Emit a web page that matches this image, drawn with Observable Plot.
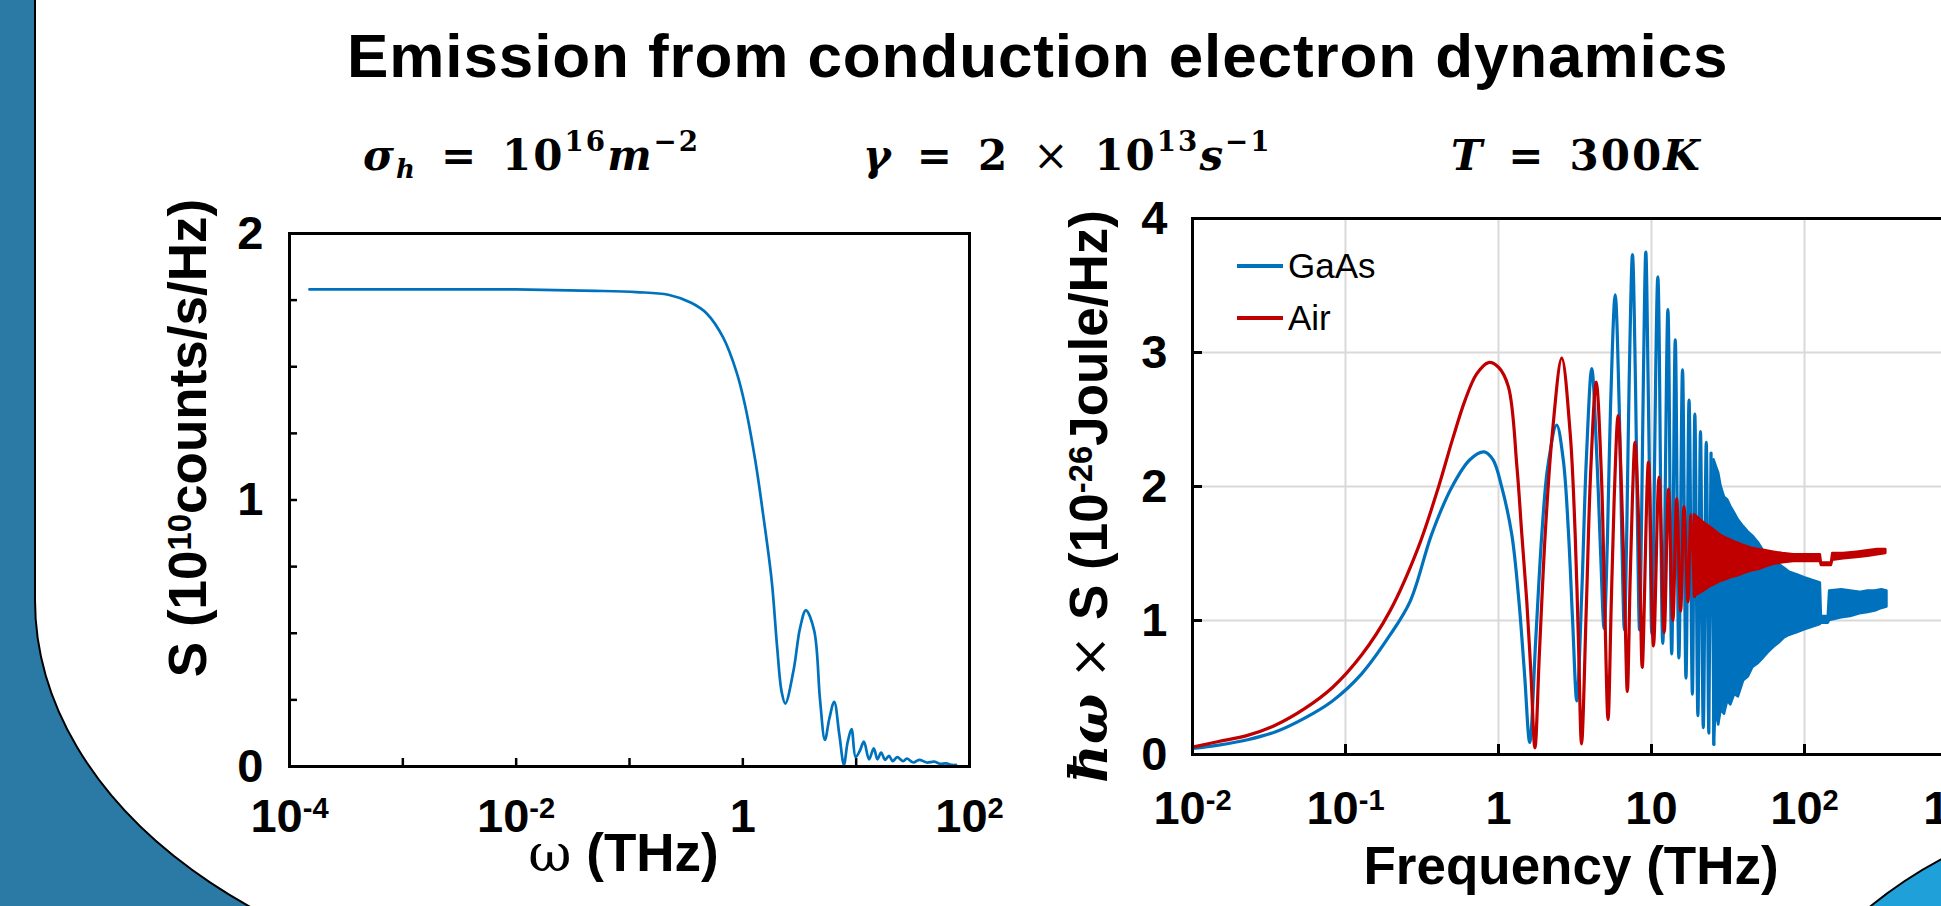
<!DOCTYPE html>
<html>
<head>
<meta charset="utf-8">
<script src="https://cdn.jsdelivr.net/npm/d3@7"></script>
<script src="https://cdn.jsdelivr.net/npm/@observablehq/plot@0.6"></script>
<style>
  html, body { margin: 0; padding: 0; }
  body { width: 1941px; height: 906px; overflow: hidden; position: relative; background: #2a7aa5; font-family: "Liberation Sans", Arial, sans-serif; }
  .abs { position: absolute; white-space: nowrap; line-height: 1; }
  #title { left: 347px; top: 25px; font-size: 62px; font-weight: bold; letter-spacing: 0.9px; color: #000; }
  .math { font-family: "DejaVu Serif", serif; font-weight: bold; font-size: 42px; letter-spacing: 2px; color: #000; top: 135px; }
  .math i { font-style: italic; }
  .math sup { font-size: 0.66em; vertical-align: 0.7em; line-height: 0; }
  .math sub { font-size: 0.62em; vertical-align: -0.3em; line-height: 0; }
  .math .op { margin: 0 24px; }
  .math .x { font-weight: normal; }
  .chart { position: absolute; top: 0; }
  .legend-row { position: absolute; display: flex; align-items: center; font-size: 35px; height: 34px; line-height: 34px; color: #000; }
  .swatch { width: 46px; height: 4px; margin-right: 5px; }
</style>
</head>
<body>
<svg class="abs" style="left:0;top:0" width="1941" height="906">
  <path d="M35,-10 L35,600 A600,400 0 0 0 635,1000 L1990,1000 L1990,-10 Z" fill="#ffffff" stroke="#000" stroke-width="2"/>
  <circle cx="2150" cy="1250" r="443" fill="#1fa0d8" stroke="#000" stroke-width="2"/>
</svg>
<div id="title" class="abs">Emission from conduction electron dynamics</div>
<div class="abs math" style="left:363px"><i>σ</i><sub><i>h</i></sub><span class="op">=</span>10<sup>16</sup><i>m</i><sup>−2</sup></div>
<div class="abs math" style="left:863px"><i>γ</i><span class="op">=</span>2<span class="op x">×</span>10<sup>13</sup><i>s</i><sup>−1</sup></div>
<div class="abs math" style="left:1451px"><i>T</i><span class="op">=</span>300<i>K</i></div>
<div id="left" class="chart" style="left:0px"></div>
<div id="right" class="chart" style="left:1050px"></div>
<div id="legend"></div>
<script>
// ---------- data ----------
const leftFreq = [1.5e-4, 1e-3, 1e-2, 0.05, 0.115, 0.22, 0.35, 0.48, 0.67, 0.88, 1.04, 1.29, 1.51, 1.8, 2.01, 2.2, 2.37, 2.8, 3.2, 3.6, 4.26, 4.8, 5.3, 5.8, 6.4, 7.1, 7.8, 8.4, 9.1, 9.9, 10.8, 11.7, 13, 14.3, 15.4, 16.6, 18, 19.5, 21, 23, 26, 28, 32, 36, 42, 49, 55, 62, 70, 76];
const leftS = [1.79, 1.79, 1.79, 1.785, 1.78, 1.77, 1.74, 1.70, 1.61, 1.48, 1.36, 1.146, 0.946, 0.695, 0.445, 0.28, 0.236, 0.36, 0.52, 0.586, 0.51, 0.25, 0.10, 0.18, 0.243, 0.12, 0.007, 0.09, 0.14, 0.035, 0.06, 0.093, 0.027, 0.068, 0.027, 0.052, 0.025, 0.04, 0.02, 0.035, 0.02, 0.03, 0.015, 0.025, 0.015, 0.018, 0.01, 0.012, 0.006, 0.006];

const gaasFreq = [0.01, 0.0148, 0.0229, 0.035, 0.0537, 0.0822, 0.127, 0.195, 0.265, 0.366, 0.495, 0.65, 0.806, 0.92, 1.05, 1.22, 1.36, 1.48, 1.6, 1.75, 1.92, 2.1, 2.4, 2.65, 2.87, 3.05, 3.25, 3.5, 3.75, 4.07, 4.4, 4.65, 4.9, 5.15, 5.4, 5.79, 6.15, 6.4, 6.65, 6.9, 7.15, 7.51, 7.85, 8.1, 8.35, 8.6, 8.85, 9.18, 9.5, 9.8, 10.05, 11.0, 11.85, 12.8, 13.55, 14.3, 15.1, 15.95, 16.8, 17.6, 18.5, 19.2, 20.1, 20.9, 21.8, 22.8, 23.7, 24.5, 25.6];
const gaasS = [0.045, 0.07, 0.11, 0.17, 0.27, 0.40, 0.60, 0.89, 1.145, 1.645, 1.995, 2.2, 2.258, 2.2, 1.995, 1.645, 1.145, 0.6, 0.09, 0.85, 1.645, 2.15, 2.458, 2.2, 1.645, 1.0, 0.40, 1.2, 2.2, 2.88, 2.2, 1.5, 0.94, 1.6, 2.6, 3.43, 2.6, 1.6, 0.93, 1.7, 2.8, 3.73, 2.8, 1.7, 0.93, 1.7, 2.8, 3.75, 2.8, 1.7, 0.90, 3.565, 0.83, 3.32, 0.75, 3.095, 0.72, 2.87, 0.57, 2.645, 0.45, 2.54, 0.29, 2.41, 0.2, 2.33, 0.16, 2.25, 0.075];
const gaasBandFreq = [25.6, 26.5, 27.5, 28.5, 30, 31.5, 33, 35, 37, 40, 43, 46, 50, 54, 58, 63, 68, 74, 80, 90, 100, 112, 127, 129, 143, 146, 175, 200, 230, 260, 290, 320, 346];
const gaasBandLow = [0.075, 0.33, 0.22, 0.33, 0.30, 0.40, 0.37, 0.45, 0.43, 0.55, 0.58, 0.65, 0.68, 0.72, 0.76, 0.80, 0.83, 0.87, 0.89, 0.91, 0.93, 0.95, 0.97, 0.98, 0.98, 1.0, 1.02, 1.03, 1.05, 1.06, 1.07, 1.09, 1.10];
const gaasBandHigh = [2.2, 2.15, 2.1, 2.0, 1.92, 1.90, 1.85, 1.80, 1.75, 1.70, 1.66, 1.63, 1.58, 1.52, 1.49, 1.46, 1.42, 1.39, 1.36, 1.34, 1.32, 1.30, 1.28, 1.03, 1.03, 1.22, 1.23, 1.22, 1.21, 1.22, 1.22, 1.23, 1.22];

const airFreq = [0.01, 0.0148, 0.0229, 0.035, 0.0537, 0.0822, 0.127, 0.195, 0.3, 0.405, 0.5, 0.605, 0.72, 0.86, 1.0, 1.16, 1.32, 1.42, 1.53, 1.63, 1.73, 1.85, 2.02, 2.25, 2.59, 2.94, 3.17, 3.33, 3.49, 3.75, 4.0, 4.35, 4.7, 4.95, 5.2, 5.45, 5.7, 6.05, 6.4, 6.7, 6.95, 7.25, 7.5, 7.8, 8.15, 8.45, 8.7, 9.55, 10.3, 11.2, 12.1, 12.9, 13.8, 14.6, 15.5, 16.3, 17.3, 18.1, 19.1];
const airS = [0.055, 0.097, 0.143, 0.22, 0.34, 0.50, 0.74, 1.07, 1.55, 1.995, 2.35, 2.645, 2.84, 2.925, 2.89, 2.745, 2.145, 1.645, 1.145, 0.6, 0.05, 0.75, 1.645, 2.4, 2.958, 2.4, 1.645, 0.85, 0.08, 1.1, 2.1, 2.78, 2.1, 1.1, 0.26, 1.1, 1.9, 2.53, 1.9, 1.1, 0.47, 1.3, 1.9, 2.33, 1.9, 1.2, 0.65, 2.18, 0.81, 2.07, 0.91, 1.98, 1.0, 1.91, 1.07, 1.85, 1.14, 1.79, 1.18];
const airBandFreq = [19.1, 20.5, 22, 24, 26, 28, 30, 33, 36, 40, 45, 50, 56, 63, 72, 85, 100, 127, 129, 150, 153, 180, 220, 260, 300, 340];
const airBandLow = [1.18, 1.20, 1.22, 1.25, 1.27, 1.29, 1.30, 1.32, 1.33, 1.35, 1.37, 1.38, 1.40, 1.42, 1.43, 1.44, 1.44, 1.44, 1.41, 1.41, 1.45, 1.46, 1.47, 1.48, 1.49, 1.50];
const airBandHigh = [1.79, 1.76, 1.73, 1.70, 1.67, 1.64, 1.62, 1.60, 1.58, 1.56, 1.54, 1.53, 1.52, 1.51, 1.50, 1.49, 1.49, 1.49, 1.43, 1.43, 1.50, 1.50, 1.51, 1.52, 1.53, 1.53];

const seriesNames = ["GaAs", "Air"];
const seriesColors = ["#0072bd", "#c00000"];

const leftXTicks = [1e-4, 1e-2, 1, 1e2];
const leftXTickLabels = ["10^{-4}", "10^{-2}", "1", "10^{2}"];
const leftXMinorTicks = [1e-3, 1e-2, 1e-1, 1, 10];
const leftYTicks = [0, 1, 2];
const leftYMinorTicks = [0.25, 0.5, 0.75, 1, 1.25, 1.5, 1.75];
const rightXTicks = [0.01, 0.1, 1, 10, 100, 1000];
const rightXTickLabels = ["10^{-2}", "10^{-1}", "1", "10", "10^{2}", "10^{3}"];
const rightXGrid = [0.1, 1, 10, 100];
const rightYTicks = [0, 1, 2, 3, 4];
const rightYGrid = [1, 2, 3];

const leftXLabel = "~{ω} (THz)";
const leftYLabel = "S (10^{10}counts/s/Hz)";
const rightXLabel = "Frequency (THz)";
const rightYLabel = "§{ħω} ~{×} S (10^{-26}Joule/Hz)";

// ---------- helpers ----------
const SVGNS = "http://www.w3.org/2000/svg";
function richText(svg) {
  svg.querySelectorAll("text").forEach(t => {
    const s = t.textContent;
    if (!/[\^§~]\{/.test(s)) return;
    const F = parseFloat(getComputedStyle(t).fontSize) || 45;
    const parts = s.split(/(\^\{[^}]*\}|§\{[^}]*\}|~\{[^}]*\})/);
    while (t.firstChild) t.removeChild(t.firstChild);
    let raise = 0;
    for (const p of parts) {
      if (!p) continue;
      const ts = document.createElementNS(SVGNS, "tspan");
      let txt = p, target = 0;
      if (p.startsWith("^{")) { txt = p.slice(2, -1); ts.setAttribute("font-size", (0.62 * F).toFixed(1)); target = 0.3 * F; }
      else if (p.startsWith("§{")) { txt = p.slice(2, -1); ts.setAttribute("font-family", "DejaVu Serif"); ts.setAttribute("font-style", "italic"); }
      else if (p.startsWith("~{")) { txt = p.slice(2, -1); ts.setAttribute("font-family", "DejaVu Serif"); ts.setAttribute("font-weight", "normal"); }
      const dy = raise - target;
      if (dy !== 0) ts.setAttribute("dy", dy.toFixed(1));
      raise = target;
      ts.textContent = txt;
      t.appendChild(ts);
    }
  });
}

const sans = '"Liberation Sans", Arial, sans-serif';
const svgStyle = {background: "transparent", overflow: "visible", maxWidth: "none", fontFamily: sans, fontWeight: "bold", color: "black"};
const blue = seriesColors[0], red = seriesColors[1];
const TICK_FONT = 47, LABEL_FONT = 53;

// ---------- left chart ----------
const LW = 1000, LH = 906, LML = 289, LMR = 31, LMT = 233, LMB = 140;
const lfw = LW - LML - LMR, lfh = LH - LMT - LMB;
const leftData = leftFreq.map((f, i) => ({f, s: leftS[i]}));

const leftPlot = Plot.plot({
  width: LW, height: LH,
  marginLeft: LML, marginRight: LMR, marginTop: LMT, marginBottom: LMB,
  style: svgStyle,
  x: {type: "log", domain: [1e-4, 1e2]},
  y: {domain: [0, 2]},
  marks: [
    Plot.tickX(leftXMinorTicks, {x: d => d, insetTop: lfh - 8, strokeWidth: 2.5}),
    Plot.tickY(leftYMinorTicks, {y: d => d, insetRight: lfw - 8, strokeWidth: 2.5}),
    Plot.axisX(leftXTicks, {tickSize: 0, tickPadding: 32, fontSize: TICK_FONT, label: null,
      tickFormat: d => leftXTickLabels[leftXTicks.indexOf(d)]}),
    Plot.axisY(leftYTicks, {tickSize: 0, tickPadding: 26, fontSize: TICK_FONT, label: null, tickFormat: d => String(d)}),
    Plot.line(leftData, {x: "f", y: "s", stroke: blue, strokeWidth: 2.7, curve: "catmull-rom"}),
    Plot.frame({stroke: "black", strokeWidth: 3}),
    Plot.text([leftXLabel], {text: d => d, frameAnchor: "bottom", textAnchor: "middle", dx: -6, dy: 104, fontSize: LABEL_FONT}),
    Plot.text([leftYLabel], {text: d => d, frameAnchor: "left", textAnchor: "middle", lineAnchor: "middle", rotate: -90, dx: -100, dy: -62, fontSize: LABEL_FONT})
  ]
});
document.getElementById("left").appendChild(leftPlot);
richText(leftPlot);

// ---------- right chart ----------
const RW = 1000, RH = 906, RML = 142, RMR = 93, RMT = 218, RMB = 152;
const rfw = RW - RML - RMR, rfh = RH - RMT - RMB;
const gaasData = gaasFreq.map((f, i) => ({f, s: gaasS[i]}));
const gaasBand = gaasBandFreq.map((f, i) => ({f, lo: gaasBandLow[i], hi: gaasBandHigh[i]}));
const airData = airFreq.map((f, i) => ({f, s: airS[i]}));
const airBand = airBandFreq.map((f, i) => ({f, lo: airBandLow[i], hi: airBandHigh[i]}));

const rightPlot = Plot.plot({
  width: RW, height: RH,
  marginLeft: RML, marginRight: RMR, marginTop: RMT, marginBottom: RMB,
  style: svgStyle,
  x: {type: "log", domain: [0.01, 1000]},
  y: {domain: [0, 4]},
  marks: [
    Plot.ruleX(rightXGrid, {x: d => d, stroke: "#d9d9d9", strokeWidth: 2}),
    Plot.ruleY(rightYGrid, {y: d => d, stroke: "#d9d9d9", strokeWidth: 2}),
    Plot.areaY(gaasBand, {x: "f", y1: "lo", y2: "hi", fill: blue, stroke: blue, strokeWidth: 2.5}),
    Plot.line(gaasData, {x: "f", y: "s", stroke: blue, strokeWidth: 3.2, curve: "catmull-rom"}),
    Plot.areaY(airBand, {x: "f", y1: "lo", y2: "hi", fill: red, stroke: red, strokeWidth: 2.5}),
    Plot.line(airData, {x: "f", y: "s", stroke: red, strokeWidth: 3.2, curve: "catmull-rom"}),
    Plot.tickX(rightXGrid, {x: d => d, insetTop: rfh - 10, strokeWidth: 3}),
    Plot.tickY(rightYGrid, {y: d => d, insetRight: rfw - 10, strokeWidth: 3}),
    Plot.axisX(rightXTicks, {tickSize: 0, tickPadding: 36, fontSize: TICK_FONT, label: null,
      tickFormat: d => rightXTickLabels[rightXTicks.indexOf(d)]}),
    Plot.axisY(rightYTicks, {tickSize: 0, tickPadding: 25, fontSize: TICK_FONT, label: null, tickFormat: d => String(d)}),
    Plot.frame({stroke: "black", strokeWidth: 3}),
    Plot.text([rightXLabel], {text: d => d, frameAnchor: "bottom", textAnchor: "middle", dx: -4, dy: 129, fontSize: LABEL_FONT}),
    Plot.text([rightYLabel], {text: d => d, frameAnchor: "left", textAnchor: "middle", lineAnchor: "middle", rotate: -90, dx: -102, dy: 10, fontSize: LABEL_FONT})
  ]
});
document.getElementById("right").appendChild(rightPlot);
richText(rightPlot);

// ---------- legend ----------
const legend = document.getElementById("legend");
seriesNames.forEach((name, i) => {
  const row = document.createElement("div");
  row.className = "legend-row";
  row.style.left = "1237px";
  row.style.top = (249 + i * 52) + "px";
  const sw = document.createElement("div");
  sw.className = "swatch";
  sw.style.background = seriesColors[i];
  const tx = document.createElement("span");
  tx.textContent = name;
  row.appendChild(sw); row.appendChild(tx);
  legend.appendChild(row);
});
</script>
</body>
</html>
